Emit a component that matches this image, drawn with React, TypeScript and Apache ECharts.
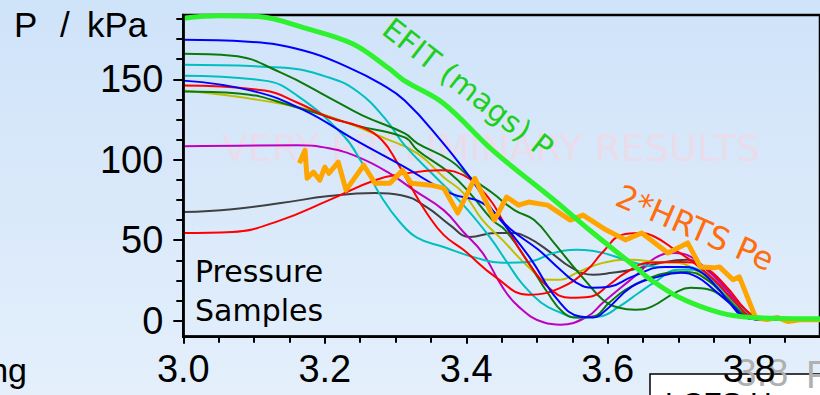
import React, { useEffect, useRef } from "react";
import * as echarts from "echarts";

type P = [number, number];

const xTicks = [3.0, 3.2, 3.4, 3.6, 3.8];
const yTicks = [0, 50, 100, 150];

const efit: P[] = [
  [3.0, 188], [3.05, 189.5], [3.106, 189], [3.171, 182], [3.24, 172], [3.29, 157],
  [3.313, 149], [3.368, 135], [3.437, 106], [3.524, 75], [3.575, 56], [3.644, 31.6],
  [3.657, 26.6], [3.699, 14.9], [3.758, 5], [3.805, 1.9], [3.878, 1.2], [3.9, 1.2],
];

const hrts: P[] = [
  [3.164, 97.8], [3.172, 105.9], [3.175, 88.5], [3.184, 92.3], [3.193, 87.3], [3.2, 95.4],
  [3.206, 91.6], [3.219, 98.5], [3.23, 81.1], [3.255, 96.6], [3.271, 85.4], [3.292, 85.4],
  [3.31, 93.4], [3.322, 85.4], [3.35, 84.2], [3.368, 82.4], [3.388, 66.9], [3.412, 88.5],
  [3.44, 62.5], [3.457, 76.8], [3.474, 71.8], [3.488, 73.7], [3.515, 71.8], [3.547, 62.5],
  [3.565, 65.6], [3.598, 56.3], [3.625, 50.2], [3.648, 54.5], [3.685, 42.1], [3.713, 48.3],
  [3.731, 33.4], [3.75, 32.8], [3.758, 33.4], [3.777, 25.4], [3.786, 27.2], [3.809, 1.9],
  [3.825, 0.6], [3.84, 1.9], [3.855, -0.6], [3.874, 0.6], [3.9, 0.6],
];

const blueA: P[] = [
  [3.0, 174.6], [3.092, 173.4], [3.171, 167.8], [3.234, 157.3], [3.28, 147], [3.313, 136.8], [3.364, 112.1],
  [3.405, 89.2], [3.437, 68.7], [3.46, 56.3], [3.492, 37.8], [3.529, 13], [3.561, 2.5],
  [3.579, 1.9], [3.598, 6.8], [3.634, 21.1], [3.671, 27.2], [3.703, 29.7], [3.726, 27.2],
  [3.75, 19.2], [3.775, 9.9], [3.795, 1.9], [3.816, 0.6], [3.9, 0.6],
];

const blueB: P[] = [
  [3.0, 149.2], [3.096, 143], [3.171, 130.7], [3.244, 112], [3.313, 95.4], [3.377, 79.3],
  [3.423, 73.1], [3.464, 56.3], [3.502, 44], [3.533, 31.6], [3.556, 23.5], [3.579, 20.4],
  [3.602, 21], [3.634, 27.2], [3.681, 33.4], [3.703, 33.4], [3.726, 31.6], [3.754, 21],
  [3.772, 11.1], [3.795, 1.9], [3.822, 0.6], [3.9, 0.6],
];

const greenA: P[] = [
  [3.0, 165.9], [3.069, 164.7], [3.138, 154.2], [3.206, 138.7], [3.253, 127.6], [3.313, 116.4],
  [3.331, 110.2], [3.377, 99.7], [3.405, 89.2], [3.437, 79.3], [3.468, 68.7], [3.496, 62.5],
  [3.524, 48.3], [3.547, 35.9], [3.571, 23.5], [3.593, 13], [3.616, 8], [3.639, 6.8],
  [3.662, 8.7], [3.695, 17.3], [3.717, 20.4], [3.744, 19.2], [3.772, 11.1], [3.8, 1.9],
  [3.822, 0.6], [3.9, 0.6],
];

const greenB: P[] = [
  [3.0, 142.4], [3.078, 141.2], [3.161, 132.5], [3.244, 121.4], [3.313, 113.9], [3.331, 105.9],
  [3.377, 91.6], [3.405, 79.3], [3.437, 62.5], [3.455, 56.3], [3.488, 35.9], [3.515, 17.3],
  [3.537, 5], [3.556, 1.9], [3.579, 2.5], [3.602, 11.1], [3.625, 19.2], [3.653, 25.4],
  [3.685, 29.7], [3.712, 30.3], [3.74, 25.4], [3.768, 14.2], [3.795, 3.1], [3.822, 0.6],
  [3.9, 0.6],
];

const olive: P[] = [
  [3.0, 143], [3.129, 135.6], [3.202, 127.6], [3.285, 113.3], [3.331, 104], [3.368, 89.2],
  [3.396, 79.3], [3.423, 62.5], [3.451, 50.2], [3.488, 33.4], [3.515, 25.4], [3.533, 25.4],
  [3.556, 29.7], [3.593, 35.9], [3.634, 37.8], [3.667, 36.5], [3.699, 35.9], [3.736, 27.2],
  [3.768, 14.9], [3.795, 3.7], [3.822, 0.6], [3.9, 0.6],
];

const cyanA: P[] = [
  [3.0, 159.1], [3.138, 157.3], [3.206, 151.1], [3.248, 141.8], [3.285, 125.7], [3.313, 109],
  [3.354, 90.4], [3.396, 71.8], [3.433, 52], [3.46, 34.7], [3.478, 23.5], [3.506, 11.1],
  [3.533, 5], [3.556, 1.9], [3.588, 2.5], [3.616, 8.7], [3.644, 17.3], [3.667, 24.1],
  [3.699, 31.6], [3.726, 31.6], [3.754, 23.5], [3.781, 11.1], [3.809, 1.9], [3.837, 0.6],
  [3.9, 0.6],
];

const cyanB: P[] = [
  [3.0, 152.3], [3.115, 149.2], [3.161, 139.9], [3.226, 115.2], [3.253, 97.8], [3.281, 76.2],
  [3.306, 61.3], [3.331, 51.4], [3.368, 45.8], [3.414, 39], [3.451, 35.9], [3.488, 36.5],
  [3.524, 42.1], [3.556, 44], [3.593, 42.1], [3.634, 36.5], [3.671, 33.4], [3.712, 33.4],
  [3.747, 25.4], [3.775, 13], [3.802, 1.9], [3.83, 0.6], [3.9, 0.6],
];

const redA: P[] = [
  [3.0, 146.1], [3.115, 143], [3.161, 135.6], [3.206, 126.3], [3.253, 120.1], [3.281, 112.1],
  [3.303, 97.8], [3.322, 83], [3.344, 66.9], [3.368, 53.3], [3.396, 44], [3.441, 27.2],
  [3.488, 16.1], [3.533, 20.4], [3.571, 31.6], [3.593, 42.7], [3.62, 53.3], [3.644, 54.5],
  [3.667, 52], [3.695, 44], [3.722, 35.9], [3.75, 25.4], [3.781, 11.1], [3.802, 2.5],
  [3.83, 0.6], [3.9, 0.6],
];

const redB: P[] = [
  [3.0, 54.5], [3.069, 55.1], [3.138, 62.5], [3.206, 74.9], [3.271, 87.3], [3.317, 91.6],
  [3.364, 93.5], [3.396, 90.4], [3.419, 82.4], [3.437, 73.1], [3.451, 62.5], [3.488, 35.9],
  [3.52, 19.2], [3.547, 14.2], [3.575, 14.9], [3.602, 22.3], [3.625, 29.7], [3.657, 35.9],
  [3.703, 36.5], [3.736, 33.4], [3.768, 21], [3.795, 6.8], [3.813, 1.9], [3.837, 0.6],
  [3.9, 0.6],
];

const magenta: P[] = [
  [3.0, 108.4], [3.161, 109], [3.206, 107.1], [3.248, 101.5], [3.289, 92.3], [3.326, 81.1],
  [3.368, 68.7], [3.396, 55.1], [3.423, 42.1], [3.451, 21], [3.474, 8.7], [3.51, -1.2],
  [3.533, -2.5], [3.571, 2.5], [3.593, 11.1], [3.62, 21], [3.644, 29.7], [3.667, 39],
  [3.695, 42.1], [3.712, 40.9], [3.736, 33.4], [3.768, 19.2], [3.8, 3.7], [3.822, 0.6],
  [3.9, 0.6],
];

const grey: P[] = [
  [3.0, 67.5], [3.069, 69.3], [3.138, 73.1], [3.206, 77.4], [3.271, 79.3], [3.308, 78],
  [3.344, 70.6], [3.377, 59.4], [3.405, 52], [3.441, 54.5], [3.464, 54.5], [3.488, 51.4],
  [3.52, 42.1], [3.547, 33.4], [3.579, 28.5], [3.606, 29.7], [3.634, 31.6], [3.681, 36.5],
  [3.712, 37.8], [3.74, 31.6], [3.768, 19.2], [3.795, 5.6], [3.816, 1.2], [3.837, 0.6],
  [3.9, 0.6],
];

const samples: { data: P[]; color: string }[] = [
  { data: grey, color: "#404040" },
  { data: magenta, color: "#bf00bf" },
  { data: olive, color: "#bfbf00" },
  { data: cyanB, color: "#00bfbf" },
  { data: cyanA, color: "#00bfbf" },
  { data: greenA, color: "#0a7a0a" },
  { data: greenB, color: "#0a7a0a" },
  { data: redB, color: "#ff0000" },
  { data: redA, color: "#ff0000" },
  { data: blueB, color: "#0000ff" },
  { data: blueA, color: "#0000ff" },
];

const SANS = '"Liberation Sans", Arial, sans-serif';
const DEJAVU = '"DejaVu Sans", sans-serif';

export default function App() {
  const ref = useRef<HTMLDivElement>(null);
  useEffect(() => {
    if (!ref.current) return;
    const chart = echarts.init(ref.current, null, { renderer: "svg" });
    const series: any[] = samples.map((s) => ({
      type: "line",
      data: s.data,
      smooth: 0.45,
      symbol: "none",
      lineStyle: { color: s.color, width: 2 },
      z: 2,
    }));
    series.push({
      type: "line",
      data: hrts,
      smooth: false,
      symbol: "none",
      lineStyle: { color: "#ffa500", width: 5, join: "round" },
      z: 3,
    });
    series.push({
      type: "line",
      data: efit,
      smooth: 0.35,
      symbol: "none",
      lineStyle: { color: "#2df22d", width: 5 },
      z: 4,
    });
    chart.setOption({
      animation: false,
      backgroundColor: "transparent",
      grid: {
        left: 183.3,
        top: 15,
        width: 649,
        height: 321.7,
        show: true,
        borderColor: "#000",
        borderWidth: 2.5,
        backgroundColor: "transparent",
      },
      xAxis: {
        type: "value",
        min: 3.0,
        max: 3.9,
        interval: 0.2,
        z: 10,
        axisLine: { onZero: false, lineStyle: { color: "#000", width: 2.5 } },
        axisTick: { length: 7, lineStyle: { color: "#000", width: 2 }, customValues: xTicks },
        minorTick: { show: true, splitNumber: 4, length: 6, lineStyle: { color: "#000", width: 2 } },
        splitLine: { show: false },
        axisLabel: {
          fontSize: 38,
          color: "#000",
          fontFamily: SANS,
          margin: 13,
          customValues: xTicks,
          formatter: (v: number) => v.toFixed(1),
        },
      },
      yAxis: {
        type: "value",
        min: -10,
        max: 190,
        splitNumber: 4,
        z: 10,
        axisLine: { show: true, onZero: false, lineStyle: { color: "#000", width: 2.5 } },
        axisTick: { show: true, length: 10, lineStyle: { color: "#000", width: 2 }, customValues: yTicks },
        minorTick: { show: true, splitNumber: 4, length: 7, lineStyle: { color: "#000", width: 2 } },
        splitLine: { show: false },
        axisLabel: {
          fontSize: 38,
          color: "#000",
          fontFamily: SANS,
          margin: 20,
          customValues: yTicks,
        },
      },
      graphic: [
        {
          type: "text", x: 222, y: 148, z: 1,
          style: { text: "VERY PRELIMINARY RESULTS", fill: "#eadcea", font: `38px ${DEJAVU}`, textVerticalAlign: "middle" },
        },
        {
          type: "rect", z: 1,
          shape: { x: 650, y: 374, width: 220, height: 60 },
          style: { fill: "#ffffff", stroke: "#000", lineWidth: 1.5 },
        },
        {
          type: "text", x: 665, y: 402, z: 1,
          style: { text: "LCFS H", fill: "#000", font: `30px ${SANS}`, textVerticalAlign: "middle" },
        },
        {
          type: "text", x: 762, y: 373, z: 1,
          style: { text: "3.8", fill: "#b0b0b0", font: `38px ${SANS}`, textAlign: "center", textVerticalAlign: "middle" },
        },
        {
          type: "text", x: 806, y: 375, z: 1,
          style: { text: "R", fill: "#b0b0b0", font: `38px ${SANS}`, textVerticalAlign: "middle" },
        },
        {
          type: "text", x: 14, y: 24, z: 20,
          style: { text: "P", fill: "#000", font: `35px ${SANS}`, textVerticalAlign: "middle" },
        },
        {
          type: "text", x: 60, y: 24, z: 20,
          style: { text: "/", fill: "#000", font: `35px ${SANS}`, textVerticalAlign: "middle" },
        },
        {
          type: "text", x: 87, y: 24, z: 20,
          style: { text: "kPa", fill: "#000", font: `35px ${SANS}`, textVerticalAlign: "middle" },
        },
        {
          type: "text", x: 27, y: 370, z: 20,
          style: { text: "ng", fill: "#000", font: `34px ${SANS}`, textAlign: "right", textVerticalAlign: "middle" },
        },
        {
          type: "text", x: 195, y: 271, z: 20,
          style: { text: "Pressure", fill: "#000", font: `30px ${DEJAVU}`, textVerticalAlign: "middle" },
        },
        {
          type: "text", x: 195, y: 310, z: 20,
          style: { text: "Samples", fill: "#000", font: `30px ${DEJAVU}`, textVerticalAlign: "middle" },
        },
        {
          type: "text", x: 468, y: 88, rotation: -0.66, z: 20,
          style: { text: "EFIT (mags) P", fill: "#1ecf1e", font: `30px ${DEJAVU}`, textAlign: "center", textVerticalAlign: "middle" },
        },
        {
          type: "text", x: 695, y: 228, rotation: -0.41, z: 20,
          style: { text: "2*HRTS Pe", fill: "#ff6e0e", font: `32px ${DEJAVU}`, textAlign: "center", textVerticalAlign: "middle" },
        },
      ],
      series,
    });
    return () => chart.dispose();
  }, []);
  return (
    <div
      ref={ref}
      style={{
        position: "fixed",
        left: 0,
        top: 0,
        width: 820,
        height: 395,
        background: "linear-gradient(180deg, #cfe3f9 0%, #e4effb 100%)",
      }}
    />
  );
}
